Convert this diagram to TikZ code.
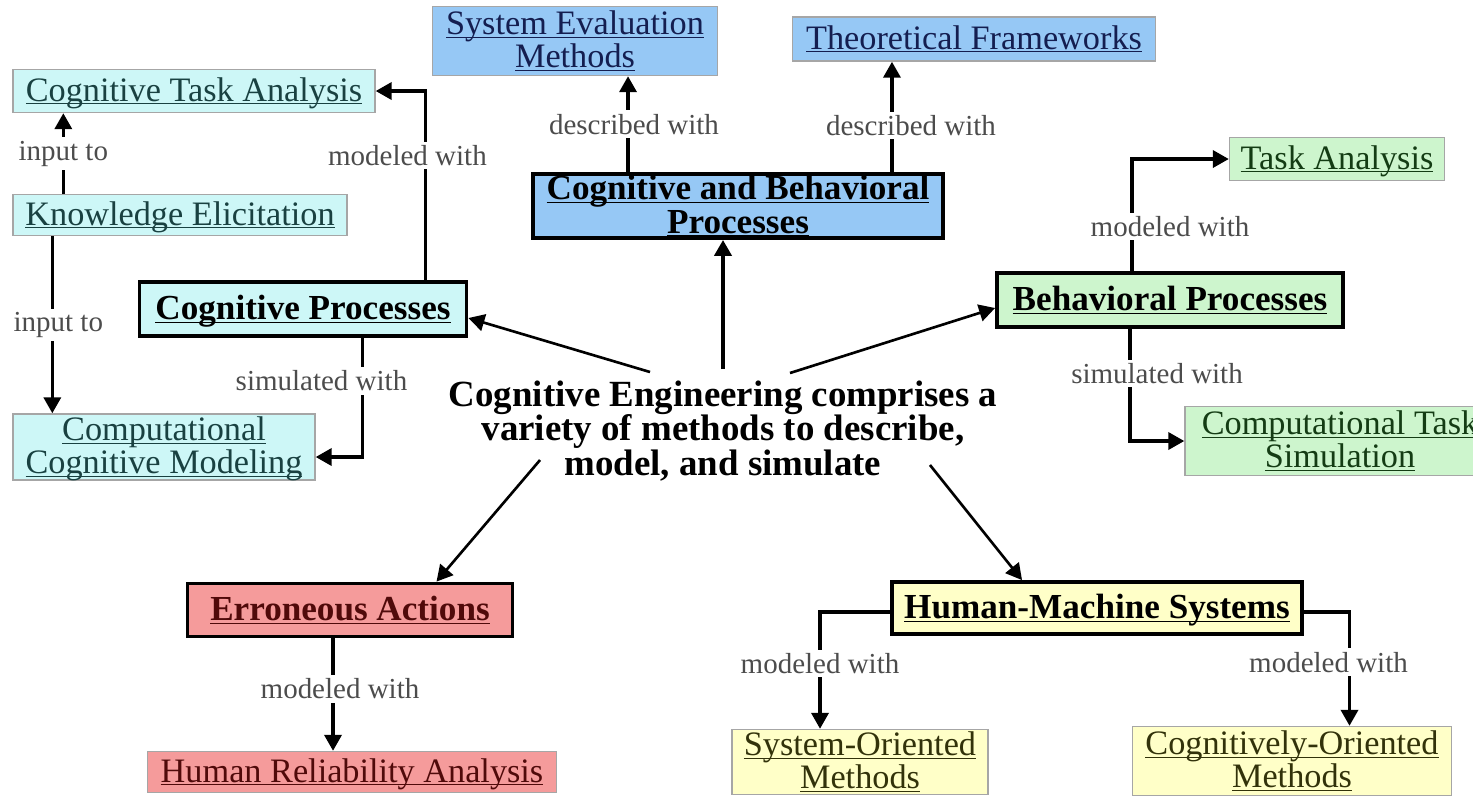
\documentclass[tikz,border=0pt]{standalone}
\usepackage{fontspec}
\setmainfont{Liberation Serif}
\usetikzlibrary{arrows.meta,calc}
\definecolor{cyanbg}{RGB}{205,247,247}
\definecolor{bluebg}{RGB}{150,200,245}
\definecolor{greenbg}{RGB}{205,245,205}
\definecolor{redbg}{RGB}{245,155,155}
\definecolor{yellowbg}{RGB}{255,255,200}
\definecolor{cyantxt}{RGB}{25,65,65}
\definecolor{bluetxt}{RGB}{20,30,80}
\definecolor{greentxt}{RGB}{20,60,20}
\definecolor{redtxt}{RGB}{80,10,10}
\definecolor{yellowtxt}{RGB}{50,50,10}
\newcommand{\undl}[1]{\underline{\raisebox{0pt}[\height][0pt]{#1}}}
\newcommand{\boxfont}{\fontsize{19.5}{19}\selectfont\lineskiplimit=-100pt}
\newcommand{\headfont}{\fontsize{20}{19}\selectfont\bfseries\lineskiplimit=-100pt}
\newcommand{\lblfont}{\fontsize{16.5}{18}\selectfont}
\newcommand{\cefont}{\fontsize{21}{19.5}\selectfont\bfseries\lineskiplimit=-100pt}

\begin{document}
\begin{tikzpicture}[x=0.02cm, y=-0.02cm,
    every node/.style={align=center, inner sep=0pt},
    thinbox/.style={draw=gray!70, line width=0.8pt, font=\boxfont},
    heavybox/.style={draw=black, line width=2.2pt, font=\headfont},
    lbl/.style={fill=white, font=\lblfont, text=black!70, inner sep=2pt},
    link/.style={line width=2pt, -{Triangle[length=0.32cm,width=0.34cm]}},
    ray/.style={line width=1.5pt, -{Triangle[length=0.32cm,width=0.34cm]}}]

\useasboundingbox (0,0) rectangle (1473,796);

% central statement
\node[font=\cefont] (ce) at (723,431)
  {Cognitive Engineering comprises a\\variety of methods to describe,\\model, and simulate};

% cognitive side
\node[thinbox, fill=cyanbg, text=cyantxt, minimum width=7.24cm, minimum height=0.86cm] (cta) at (194,91) {\undl{Cognitive Task Analysis}};
\node[thinbox, fill=cyanbg, text=cyantxt, minimum width=6.68cm, minimum height=0.82cm] (ke) at (180,215) {\undl{Knowledge Elicitation}};
\node[thinbox, fill=cyanbg, text=cyantxt, minimum width=6.04cm, minimum height=1.32cm] (ccm) at (164,447) {\undl{Computational}\\\undl{Cognitive Modeling}};
\node[heavybox, fill=cyanbg, minimum width=6.54cm, minimum height=1.08cm] (cp) at (303,309) {\undl{Cognitive Processes}};

% describing
\node[thinbox, fill=bluebg, text=bluetxt, minimum width=5.7cm, minimum height=1.38cm] (sem) at (575,41) {\undl{System Evaluation}\\\undl{Methods}};
\node[thinbox, fill=bluebg, text=bluetxt, minimum width=7.26cm, minimum height=0.88cm] (tf) at (974,39) {\undl{Theoretical Frameworks}};
\node[heavybox, fill=bluebg, minimum width=8.2cm, minimum height=1.28cm] (cbp) at (738,206) {\undl{Cognitive and Behavioral}\\\undl{Processes}};

% behavioral side
\node[thinbox, fill=greenbg, text=greentxt, minimum width=4.3cm, minimum height=0.86cm] (ta) at (1337,159) {\undl{Task Analysis}};
\node[heavybox, fill=greenbg, minimum width=6.92cm, minimum height=1.08cm] (bp) at (1170,300) {\undl{Behavioral Processes}};
\node[thinbox, fill=greenbg, text=greentxt, minimum width=6.2cm, minimum height=1.38cm] (cts) at (1340,441) {\undl{Computational Task}\\\undl{Simulation}};

% errors
\node[heavybox, fill=redbg, text=redtxt, minimum width=6.5cm, minimum height=1.06cm] (ea) at (350,610) {\undl{Erroneous Actions}};
\node[thinbox, fill=redbg, text=redtxt, minimum width=8.18cm, minimum height=0.82cm] (hra) at (352,772) {\undl{Human Reliability Analysis}};

% human-machine
\node[heavybox, fill=yellowbg, minimum width=8.2cm, minimum height=1.04cm] (hms) at (1097,608) {\undl{Human-Machine Systems}};
\node[thinbox, fill=yellowbg, text=yellowtxt, minimum width=5.12cm, minimum height=1.3cm] (som) at (860,762) {\undl{System-Oriented}\\\undl{Methods}};
\node[thinbox, fill=yellowbg, text=yellowtxt, minimum width=6.38cm, minimum height=1.38cm] (com) at (1292,761) {\undl{Cognitively-Oriented}\\\undl{Methods}};

% connector ends
\coordinate (cecp) at ([xshift=-1.46cm, yshift=1.18cm]ce.center);
\coordinate (cecbp) at ([yshift=1.24cm]ce.center);
\coordinate (cebp) at ([xshift=1.34cm, yshift=1.16cm]ce.center);
\coordinate (ceea) at ([xshift=-3.66cm, yshift=-0.58cm]ce.center);
\coordinate (cehms) at ([xshift=4.14cm, yshift=-0.68cm]ce.center);
\coordinate (cpup) at ([xshift=-0.86cm]cp.north east);
\coordinate (cpdn) at ([xshift=1.19cm]cp.south);
\coordinate (keup) at ([xshift=1.02cm]ke.north west);
\coordinate (kedn) at ([xshift=0.8cm]ke.south west);
\coordinate (cbpl) at ([xshift=-2.2cm]cbp.north);
\coordinate (cbpr) at ([xshift=3.08cm]cbp.north);
\coordinate (bpup) at ([xshift=-0.76cm]bp.north);
\coordinate (bpdn) at ([xshift=-0.8cm]bp.south);
\coordinate (eadn) at ([xshift=-0.34cm]ea.south);
\coordinate (hmsl) at ([yshift=-0.08cm]hms.west);
\coordinate (hmsr) at ([yshift=-0.08cm]hms.east);
\coordinate (somin) at ([xshift=-0.8cm]som.north);
\coordinate (comin) at ([xshift=1.15cm]com.north);

% from the statement
\draw[ray] (cecp) -- ([yshift=-0.18cm]cp.east);
\draw[link, line width=2.6pt] (cecbp) -- (cecbp |- cbp.south);
\draw[ray] (cebp) -- ([yshift=-0.16cm]bp.west);
\draw[ray] (ceea) -- ([xshift=1.73cm]ea.north);
\draw[ray] (cehms) -- ([xshift=-1.5cm]hms.north);

% labelled links
\draw[link] (cpup) |- node[lbl, pos=.33, xshift=-0.36cm] {modeled with} (cta.east);
\draw[link] (keup) -- node[lbl] {input to} (keup |- cta.south);
\draw[link] (kedn) -- node[lbl, xshift=0.12cm] {input to} (kedn |- ccm.north);
\draw[link] (cpdn) |- node[lbl, pos=.18, xshift=-0.82cm] {simulated with} ([yshift=-0.2cm]ccm.east);
\draw[link] (cbpl) -- node[lbl, xshift=0.12cm] {described with} (cbpl |- sem.south);
\draw[link] (cbpr) -- node[lbl, pos=.42, xshift=0.38cm] {described with} (cbpr |- tf.south);
\draw[link] (bpup) |- node[lbl, pos=.2, xshift=0.76cm] {modeled with} (ta.west);
\draw[link] (bpdn) |- node[lbl, pos=.2, xshift=0.54cm] {simulated with} (cts.west);
\draw[link] (eadn) -- node[lbl, pos=.45, xshift=0.14cm] {modeled with} (eadn |- hra.north);
\draw[link] (hmsl) -| node[lbl, pos=.72] {modeled with} (somin);
\draw[link] (hmsr) -| node[lbl, pos=.72, xshift=-0.42cm] {modeled with} (comin);

\end{tikzpicture}
\end{document}
